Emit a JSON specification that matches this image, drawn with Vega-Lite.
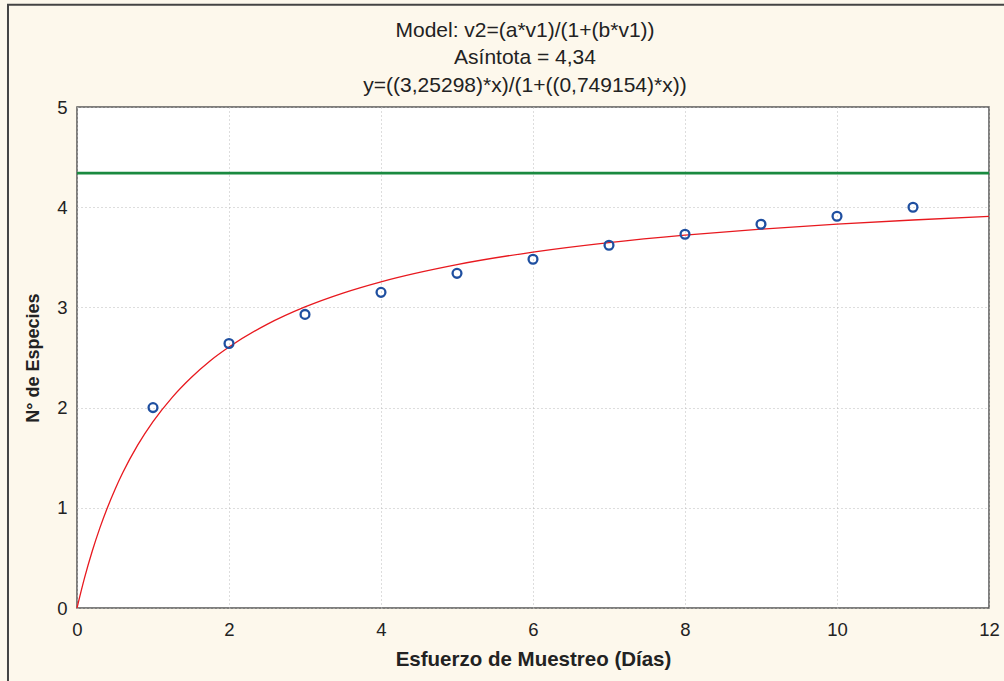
{
  "$schema": "https://vega.github.io/schema/vega-lite/v6.json",
  "autosize": "none",
  "width": 912,
  "height": 501,
  "padding": {"left": 77, "top": 107, "right": 15, "bottom": 73},
  "background": "#fdf8ec",
  "config": {
    "view": {"fill": "white", "stroke": "#555555", "strokeWidth": 1.5},
    "font": "Liberation Sans",
    "axis": {
      "labelFont": "Liberation Sans",
      "labelFontSize": 18.5,
      "labelColor": "#222222",
      "labelFlush": false,
      "titleFont": "Liberation Sans",
      "titleFontWeight": "bold",
      "titleColor": "#222222",
      "domain": false,
      "ticks": false,
      "format": "d",
      "gridColor": "#bbbbbb",
      "gridDash": [1, 3],
      "gridWidth": 1
    }
  },
  "title": {
    "text": ["Model: v2=(a*v1)/(1+(b*v1))", "Asíntota = 4,34", "y=((3,25298)*x)/(1+((0,749154)*x))"],
    "font": "Liberation Sans",
    "fontSize": 21,
    "fontWeight": "normal",
    "color": "#222222",
    "lineHeight": 27.5,
    "anchor": "middle",
    "frame": "group",
    "dx": -8,
    "dy": 104,
    "offset": 12
  },
  "datasets": {
    "obs": [
      {"dias": 1, "especies": 2.0},
      {"dias": 2, "especies": 2.64},
      {"dias": 3, "especies": 2.93},
      {"dias": 4, "especies": 3.15},
      {"dias": 5, "especies": 3.34},
      {"dias": 6, "especies": 3.48},
      {"dias": 7, "especies": 3.62},
      {"dias": 8, "especies": 3.73},
      {"dias": 9, "especies": 3.83},
      {"dias": 10, "especies": 3.91},
      {"dias": 11, "especies": 4.0}
    ],
    "modelo": [
      {"x": 0, "y": 0},
      {"x": 0.1, "y": 0.3026},
      {"x": 0.2, "y": 0.5658},
      {"x": 0.3, "y": 0.7968},
      {"x": 0.4, "y": 1.0012},
      {"x": 0.5, "y": 1.1833},
      {"x": 0.6, "y": 1.3465},
      {"x": 0.8, "y": 1.6272},
      {"x": 1, "y": 1.8597},
      {"x": 1.25, "y": 2.0998},
      {"x": 1.5, "y": 2.2976},
      {"x": 1.75, "y": 2.4653},
      {"x": 2, "y": 2.6041},
      {"x": 2.5, "y": 2.8308},
      {"x": 3, "y": 3.0051},
      {"x": 3.5, "y": 3.1434},
      {"x": 4, "y": 3.2557},
      {"x": 5, "y": 3.4272},
      {"x": 6, "y": 3.552},
      {"x": 7, "y": 3.6468},
      {"x": 8, "y": 3.7213},
      {"x": 9, "y": 3.7814},
      {"x": 10, "y": 3.8308},
      {"x": 11, "y": 3.8722},
      {"x": 12, "y": 3.9075}
    ],
    "asintota": [{"y": 4.34}]
  },
  "layer": [
    {
      "data": {"name": "asintota"},
      "mark": {"type": "rule", "color": "#1a8a40", "strokeWidth": 2.8},
      "encoding": {
        "y": {
          "field": "y",
          "type": "quantitative",
          "scale": {"domain": [0, 5], "nice": false},
          "axis": {
            "title": "N° de Especies",
            "titleFontSize": 18,
            "values": [0, 1, 2, 3, 4, 5],
            "labelPadding": 10,
            "titlePadding": 14
          }
        }
      }
    },
    {
      "data": {"name": "modelo"},
      "mark": {"type": "line", "color": "#e8191f", "strokeWidth": 1.3, "interpolate": "monotone"},
      "encoding": {
        "x": {
          "field": "x",
          "type": "quantitative",
          "scale": {"domain": [0, 12], "nice": false},
          "axis": {
            "title": "Esfuerzo de Muestreo (Días)",
            "titleFontSize": 20.5,
            "values": [0, 2, 4, 6, 8, 10, 12],
            "labelPadding": 12,
            "titlePadding": 11
          }
        },
        "y": {"field": "y", "type": "quantitative"}
      }
    },
    {
      "data": {"name": "obs"},
      "mark": {"type": "point", "shape": "circle", "filled": false, "color": "#1f4fa0", "strokeWidth": 2.3, "size": 78, "opacity": 1},
      "encoding": {
        "x": {"field": "dias", "type": "quantitative"},
        "y": {"field": "especies", "type": "quantitative"}
      }
    },
    {
      "data": {"values": [{}]},
      "mark": {"type": "rect", "fill": null, "stroke": "#444444", "strokeWidth": 2, "clip": false},
      "encoding": {
        "x": {"datum": -0.908, "type": "quantitative"},
        "x2": {"datum": 12.3},
        "y": {"datum": 6.02, "type": "quantitative"},
        "y2": {"datum": -0.85}
      }
    }
  ]
}
